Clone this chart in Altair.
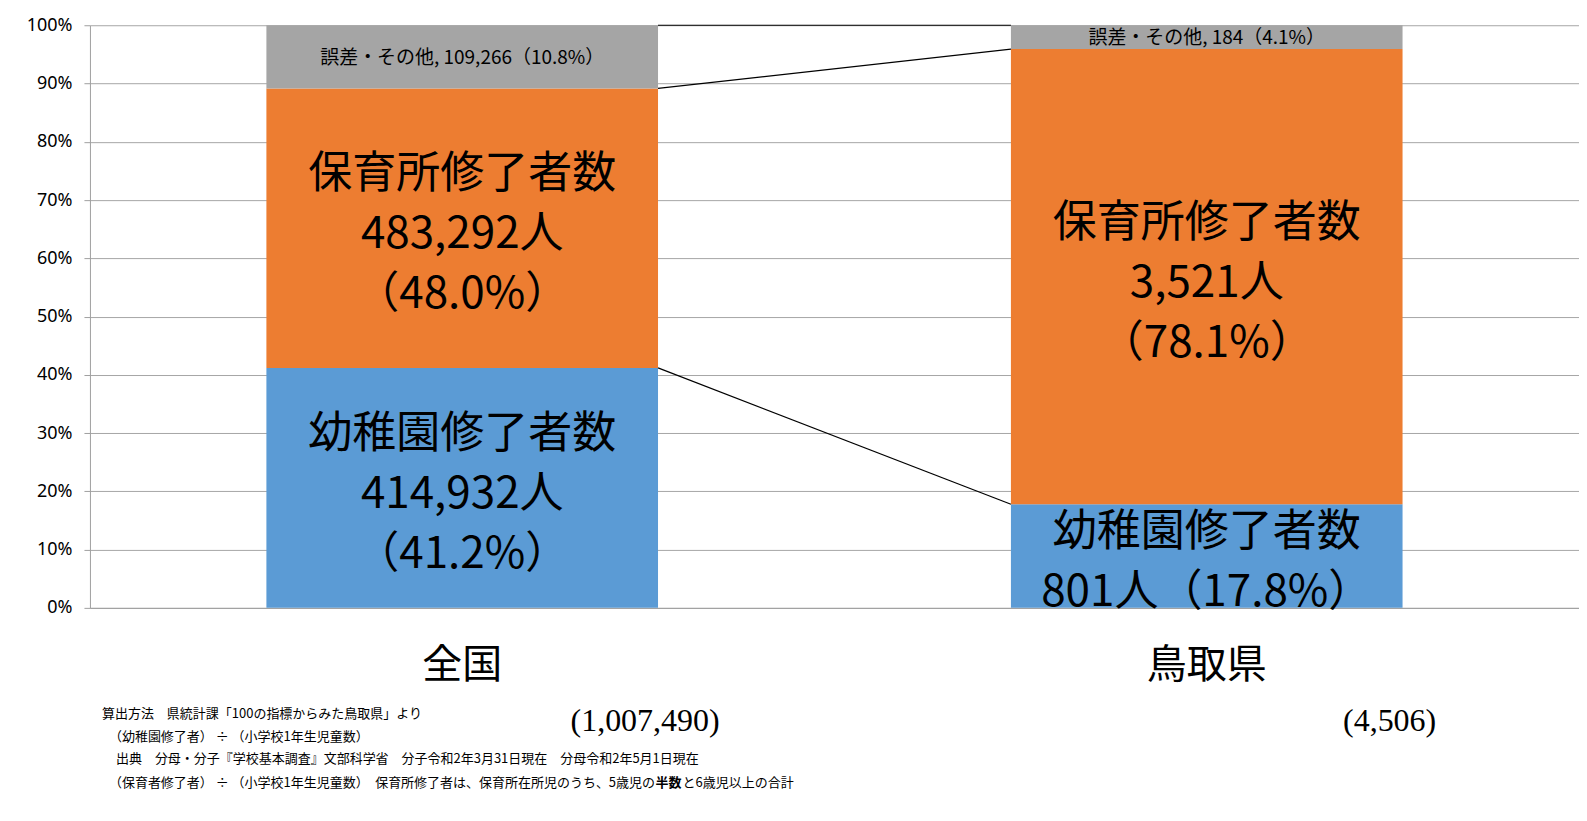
import altair as alt
import pandas as pd

categories = ["全国", "鳥取県"]
kinder = [414932, 801]
nursery = [483292, 3521]
other = [109266, 184]
segment_names = ["幼稚園修了者数", "保育所修了者数", "誤差・その他"]
colors = ["#5B9BD5", "#ED7D31", "#A5A5A5"]
y_ticks = [0, 0.1, 0.2, 0.3, 0.4, 0.5, 0.6, 0.7, 0.8, 0.9, 1.0]
footnotes = [
    "算出方法　県統計課「100の指標からみた鳥取県」より",
    "（幼稚園修了者） ÷ （小学校1年生児童数）",
    "出典　分母・分子『学校基本調査』文部科学省　分子令和2年3月31日現在　分母令和2年5月1日現在",
    "（保育者修了者） ÷ （小学校1年生児童数）　保育所修了者は、保育所在所児のうち、5歳児の",
]
footnote_bold = "半数"
footnote_tail = "と6歳児以上の合計"

JP = "Noto Sans CJK JP"

rows = []
totals = []
for i, cat in enumerate(categories):
    vals = [kinder[i], nursery[i], other[i]]
    total = sum(vals)
    totals.append({"cat": cat, "label": f"({total:,})"})
    start = 0.0
    for j, (name, v) in enumerate(zip(segment_names, vals)):
        frac = v / total
        pct = f"{frac * 100:.1f}"
        nlines = 0
        if j < 2:
            if frac > 0.3:
                lab = f"{name}\n{v:,}人\n（{pct}%）"
                nlines = 3
            else:
                lab = f"{name}\n{v:,}人（{pct}%）"
                nlines = 2
            big, small = lab, ""
        else:
            big, small = "", f"{name}, {v:,}（{pct}%）"
        rows.append({"cat": cat, "seg": name, "order": j, "start": start,
                     "end": start + frac, "mid": start + frac / 2,
                     "big": big, "small": small, "nlines": nlines})
        start += frac
df = pd.DataFrame(rows)
tot_df = pd.DataFrame(totals)

conn = []
for j in range(3):
    a = df[(df.cat == categories[0]) & (df.order == j)].iloc[0]
    b = df[(df.cat == categories[1]) & (df.order == j)].iloc[0]
    conn.append({"cat": categories[0], "cat2": categories[1], "y1": a.end, "y2": b.end})
conn_df = pd.DataFrame(conn)

xscale = alt.Scale(domain=categories, paddingInner=0.474, paddingOuter=0.237)
yscale = alt.Scale(domain=[0, 1], nice=False)

x_axis = alt.Axis(title=None, ticks=False, labelAngle=0, labelFont=JP, labelFontSize=40,
                  labelColor="#000000", labelPadding=38, domainColor="#a0a0a0", grid=False)
y_axis = alt.Axis(title=None, values=y_ticks, format=".0%", grid=True, gridColor="#a6a6a6",
                  tickSize=6, tickColor="#a0a0a0", domainColor="#a0a0a0", labelFont="Noto Sans",
                  labelFontSize=18, labelColor="#000000", labelPadding=12)

bars = alt.Chart(df).mark_bar().encode(
    x=alt.X("cat:N", scale=xscale, axis=x_axis, sort=categories),
    y=alt.Y("start:Q", scale=yscale, axis=y_axis),
    y2="end:Q",
    color=alt.Color("seg:N", scale=alt.Scale(domain=segment_names, range=colors), legend=None),
)

LH = 60
big_layers = []
for n in (3, 2):
    big_layers.append(
        alt.Chart(df).transform_filter(alt.datum.nlines == n).mark_text(
            font=JP, fontSize=44, lineBreak="\n", lineHeight=LH,
            baseline="middle", color="#000000", dy=-(n - 1) * LH / 2 + 7
        ).encode(
            x=alt.X("cat:N", scale=xscale, sort=categories),
            y=alt.Y("mid:Q", scale=yscale),
            text="big:N",
        )
    )

small_text = alt.Chart(df).transform_filter(alt.datum.small != "").mark_text(
    font=JP, fontSize=19, baseline="middle", color="#000000", dy=1).encode(
    x=alt.X("cat:N", scale=xscale, sort=categories),
    y=alt.Y("mid:Q", scale=yscale),
    text="small:N",
)

connectors = alt.Chart(conn_df).mark_rule(color="#000000", strokeWidth=1.2).encode(
    x=alt.X("cat:N", scale=xscale, sort=categories, bandPosition=1),
    x2=alt.X2("cat2", bandPosition=0),
    y=alt.Y("y1:Q", scale=yscale),
    y2="y2:Q",
)

total_text = alt.Chart(tot_df).mark_text(font="Liberation Serif", fontSize=32, dx=183,
                                         baseline="middle", color="#000000").encode(
    x=alt.X("cat:N", scale=xscale, sort=categories),
    y=alt.value(696),
    text="label:N",
)

FN = 13
note_pos = [(12, 689), (19, 712), (26, 734), (19, 758)]
note_layers = []
for line, (px, py) in zip(footnotes, note_pos):
    note_layers.append(
        alt.Chart(pd.DataFrame({"t": [line]})).mark_text(
            font=JP, fontSize=FN, align="left", baseline="middle", color="#000000"
        ).encode(x=alt.value(px), y=alt.value(py), text="t:N")
    )
note_layers.append(
    alt.Chart(pd.DataFrame({"t": [footnote_bold]})).mark_text(
        font=JP, fontSize=FN, fontWeight="bold", align="left", baseline="middle", color="#000000"
    ).encode(x=alt.value(566), y=alt.value(758), text="t:N")
)
note_layers.append(
    alt.Chart(pd.DataFrame({"t": [footnote_tail]})).mark_text(
        font=JP, fontSize=FN, align="left", baseline="middle", color="#000000"
    ).encode(x=alt.value(593), y=alt.value(758), text="t:N")
)

chart = alt.layer(bars, connectors, *big_layers, small_text, total_text, *note_layers).properties(
    width=1490, height=583,
    autosize=alt.AutoSizeParams(type="none"),
    padding={"left": 82, "top": 17, "right": 0, "bottom": 200},
    background="#ffffff",
).configure_view(stroke=None)

chart.save("out.html", embed_options={"renderer": "svg", "actions": False})
